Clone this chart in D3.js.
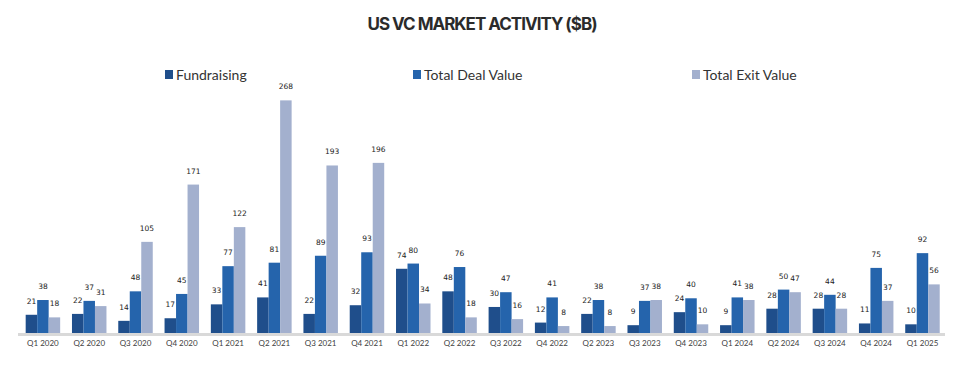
<!DOCTYPE html>
<html><head><meta charset="utf-8">
<script src="https://cdn.jsdelivr.net/npm/d3@7"></script>
<style>body{margin:0;background:#fff}svg{display:block}</style>
</head><body><svg id="c" width="961" height="375"></svg>
<script>
const categories = ["Q1 2020","Q2 2020","Q3 2020","Q4 2020","Q1 2021","Q2 2021","Q3 2021","Q4 2021","Q1 2022","Q2 2022","Q3 2022","Q4 2022","Q2 2023","Q3 2023","Q4 2023","Q1 2024","Q2 2024","Q3 2024","Q4 2024","Q1 2025"];
const fundraising = [21,22,14,17,33,41,22,32,74,48,30,12,22,9,24,9,28,28,11,10];
const dealValue = [38,37,48,45,77,81,89,93,80,76,47,41,38,37,40,41,50,44,75,92];
const exitValue = [18,31,105,171,122,268,193,196,34,18,16,8,8,38,10,38,47,28,37,56];
const seriesNames = ["Fundraising","Total Deal Value","Total Exit Value"];
const colors = ["#1F4E8B","#2564AC","#A3B0CE"];

const svg = d3.select("#c");
const series = [fundraising, dealValue, exitValue];

const x0 = d3.scaleBand().domain(categories).range([19.8, 945.6]).paddingInner(0.255).paddingOuter(0.127);
const x1 = d3.scaleBand().domain(seriesNames).range([0, x0.bandwidth()]);
const y = d3.scaleLinear().domain([0, 300]).range([333, 72.6]);

// axis line
svg.append("line").attr("x1",18).attr("x2",945).attr("y1",334.5).attr("y2",334.5)
  .attr("stroke","#D9D9D9").attr("stroke-width",3);

const g = svg.append("g");
seriesNames.forEach((name, si) => {
  const data = series[si].map((v,i)=>({c:categories[i], v}));
  g.selectAll(null).data(data).enter().append("rect")
    .attr("x", d => x0(d.c) + x1(name))
    .attr("y", d => y(d.v))
    .attr("width", x1.bandwidth())
    .attr("height", d => y(0) - y(d.v))
    .attr("fill", colors[si]);
  g.selectAll(null).data(data).enter().append("text")
    .attr("x", d => x0(d.c) + x1(name) + x1.bandwidth()/2)
    .attr("y", d => y(d.v) - 11)
    .attr("text-anchor","middle")
    .attr("font-family","DejaVu Sans")
    .attr("font-size", 7.5)
    .attr("fill","#222")
    .text(d => d.v);
});

// x axis labels
const xAxis = d3.axisBottom(x0).tickSize(0).tickPadding(0);
const ax = svg.append("g").attr("transform","translate(0,340)").call(xAxis);
ax.select(".domain").remove();
ax.selectAll("text").attr("font-family","Lato").attr("font-size",8).attr("fill","#404040").attr("dy","0.71em");

// title
svg.append("text").attr("x",482).attr("y",30).attr("text-anchor","middle")
  .attr("font-family","Inter").attr("font-weight",700).attr("font-size",17)
  .attr("letter-spacing","-1px").attr("fill","#2B2B2B")
  .text("US VC MARKET ACTIVITY ($B)");

// legend
const legendX = [165, 413, 692];
const lg = svg.append("g");
seriesNames.forEach((n,i)=>{
  lg.append("rect").attr("x",legendX[i]).attr("y",70).attr("width",8).attr("height",9).attr("fill",colors[i]);
  lg.append("text").attr("x",legendX[i]+11).attr("y",80).attr("font-family","Lato").attr("font-size",14)
    .attr("fill","#333").text(n);
});
</script></body></html>
